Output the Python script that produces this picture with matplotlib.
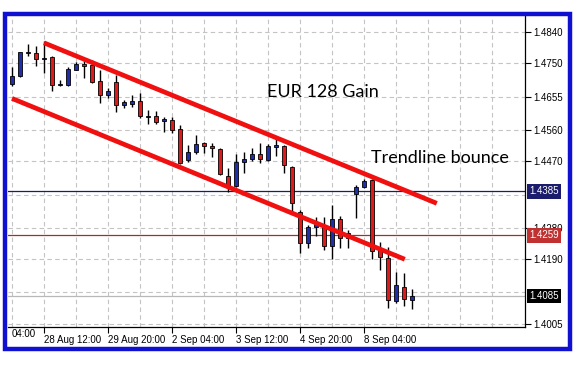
import matplotlib.pyplot as plt
import matplotlib.transforms as mtransforms
from matplotlib.patches import Rectangle

# H4 candles
opens = [1.4692, 1.4713, 1.4780, 1.4780, 1.4762, 1.4768, 1.4689, 1.4689, 1.4732, 1.4749,
         1.4745, 1.4700, 1.4660, 1.4698, 1.4631, 1.4634, 1.4642, 1.4598, 1.4600, 1.4585,
         1.4588, 1.4562, 1.4474, 1.4498, 1.4522, 1.4514, 1.4505, 1.4429, 1.4400, 1.4469,
         1.4476, 1.4491, 1.4474, 1.4510, 1.4514, 1.4455, 1.4326, 1.4237, 1.4283, 1.4288,
         1.4228, 1.4304, 1.4250, 1.4376, 1.4396, 1.4417, 1.4217, 1.4193, 1.4072, 1.4112,
         1.4074]
highs = [1.4739, 1.4784, 1.4806, 1.4799, 1.4813, 1.4771, 1.4704, 1.4740, 1.4754, 1.4764,
         1.4760, 1.4731, 1.4679, 1.4717, 1.4646, 1.4660, 1.4665, 1.4617, 1.4614, 1.4598,
         1.4596, 1.4574, 1.4517, 1.4545, 1.4526, 1.4523, 1.4507, 1.4450, 1.4491, 1.4498,
         1.4507, 1.4523, 1.4520, 1.4539, 1.4517, 1.4457, 1.4331, 1.4288, 1.4312, 1.4310,
         1.4345, 1.4314, 1.4274, 1.4402, 1.4419, 1.4419, 1.4240, 1.4224, 1.4154, 1.4152,
         1.4104]
lows = [1.4685, 1.4711, 1.4770, 1.4742, 1.4723, 1.4670, 1.4685, 1.4685, 1.4730, 1.4708,
        1.4694, 1.4638, 1.4652, 1.4612, 1.4622, 1.4626, 1.4593, 1.4577, 1.4577, 1.4555,
        1.4552, 1.4462, 1.4469, 1.4491, 1.4495, 1.4482, 1.4431, 1.4383, 1.4398, 1.4436,
        1.4472, 1.4466, 1.4472, 1.4485, 1.4436, 1.4326, 1.4209, 1.4221, 1.4257, 1.4217,
        1.4190, 1.4221, 1.4221, 1.4307, 1.4394, 1.4190, 1.4159, 1.4050, 1.4066, 1.4056,
        1.4047]
closes = [1.4713, 1.4783, 1.4782, 1.4763, 1.4765, 1.4689, 1.4690, 1.4734, 1.4749, 1.4743,
          1.4698, 1.4660, 1.4671, 1.4631, 1.4640, 1.4643, 1.4601, 1.4599, 1.4583, 1.4590,
          1.4560, 1.4464, 1.4496, 1.4520, 1.4514, 1.4507, 1.4433, 1.4400, 1.4469, 1.4476,
          1.4491, 1.4476, 1.4514, 1.4517, 1.4460, 1.4350, 1.4236, 1.4283, 1.4290, 1.4228,
          1.4304, 1.4250, 1.4264, 1.4398, 1.4415, 1.4215, 1.4196, 1.4074, 1.4116, 1.4076,
          1.4085]

x_tick_pos = [4, 12, 20, 28, 36, 44]
x_tick_labels = ['28 Aug 12:00', '29 Aug 20:00', '2 Sep 04:00', '3 Sep 12:00',
                 '4 Sep 20:00', '8 Sep 04:00']
y_grid = [1.4840, 1.4750, 1.4655, 1.4560, 1.4470, 1.4375, 1.4280, 1.4190, 1.4095, 1.4005]
y_labelled = [1.4840, 1.4750, 1.4655, 1.4560, 1.4470, 1.4280, 1.4190, 1.4005]

# trendlines: (x0, y0), (x1, y1) in bar index / price
upper_line = [(4.0, 1.4809), (53.1, 1.4350)]
lower_line = [(0.0, 1.4650), (49.1, 1.4190)]

levels = [1.4385, 1.4259, 1.4085]
level_colors = ['#1c1c6c', '#b02828', '#b8b8b8']
level_box = ['#1c1c6c', '#c03232', '#000000']

BULL = '#1f2fa8'
BEAR = '#e01a1a'

fig = plt.figure(figsize=(5.73, 3.84), dpi=100)
ax = fig.add_axes([8 / 573, 57 / 384, 517 / 573, 311 / 384])

idx = list(range(len(opens)))

# grid
for y in y_grid:
    ax.axhline(y, color='#c4c4c4', lw=0.8, ls=(0, (4, 3)), zorder=0)
for x in range(0, 64, 4):
    ax.axvline(x, color='#c4c4c4', lw=0.8, ls=(0, (4, 3)), zorder=0)

for lv, c in zip(levels, level_colors):
    ax.axhline(lv, color=c, lw=0.9, zorder=1)

ax.vlines(idx, lows, highs, color='black', lw=1.0, zorder=2)
for i, o, c in zip(idx, opens, closes):
    ax.bar(i, abs(c - o), bottom=min(o, c), width=0.62,
           color=BULL if c >= o else BEAR, edgecolor='black', lw=0.6, zorder=3)

for line in (upper_line, lower_line):
    (x0, y0), (x1, y1) = line
    ax.plot([x0, x1], [y0, y1], color='#f01010', lw=3.4, solid_capstyle='butt', zorder=4)

ax.text(31.9, 1.4668, 'EUR 128 Gain', fontsize=13, family='Lato', va='center', ha='left')
ax.text(44.9, 1.4480, 'Trendline bounce', fontsize=13, family='Lato', va='center', ha='left')

ax.set_xlim(-0.5, 64.125)
ax.set_ylim(1.39963, 1.48858)

ax.spines['left'].set_visible(False)
ax.spines['top'].set_visible(False)
ax.spines['right'].set_linewidth(0.9)
ax.spines['bottom'].set_linewidth(0.9)

ax.yaxis.tick_right()
ax.set_yticks(y_labelled)
ax.set_yticklabels([f'{v:.4f}' for v in y_labelled])
ax.set_xticks(x_tick_pos)
ax.set_xticklabels(x_tick_labels, ha='left')
ax.tick_params(labelsize=7, length=4, width=0.8, pad=2)
for lab in ax.get_xticklabels() + ax.get_yticklabels():
    lab.set_family('Liberation Sans')
ax.text(0, -0.008, '04:00', transform=mtransforms.blended_transform_factory(ax.transData, ax.transAxes),
        fontsize=7, family='Liberation Sans', ha='left', va='top')

trans = mtransforms.blended_transform_factory(ax.transAxes, ax.transData)
for lv, bc in zip(levels, level_box):
    ax.text(1.008, lv, f'{lv:.4f}', transform=trans, fontsize=7, family='Liberation Sans',
            color='white', va='center', ha='left', zorder=10,
            bbox=dict(boxstyle='square,pad=0.25', facecolor=bc, edgecolor='none'))

# blue window frame
fig.patches.append(Rectangle((5 / 573, 1 - 349 / 384), 564.5 / 573, 335.5 / 384,
                             transform=fig.transFigure, fill=False,
                             edgecolor='#1010d0', lw=3.2))

fig.savefig('out.png', dpi=100)
